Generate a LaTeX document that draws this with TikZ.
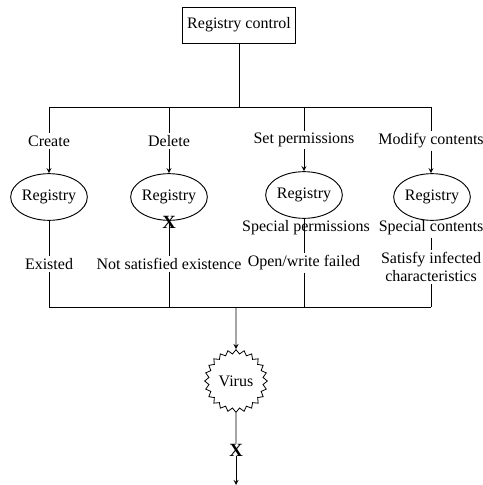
\documentclass[tikz,border=0pt]{standalone}
\usepackage{fontspec}
\setmainfont{Liberation Serif}
\usetikzlibrary{shapes.geometric,arrows,positioning}

\begin{document}
\begin{tikzpicture}[
    x=0.75pt, y=-0.75pt,
    font=\fontsize{12}{14}\selectfont,
    ctrlbox/.style={rectangle, draw, line width=0.7pt, minimum width=85pt, minimum height=27pt},
    reg/.style={ellipse, draw, line width=0.7pt, inner sep=0pt, minimum width=55pt, minimum height=35pt},
    lbl/.style={inner sep=1.5pt, align=center},
    virusnode/.style={star, star points=24, star point ratio=1.15, draw, line width=0.6pt, inner sep=0pt, minimum size=47pt},
    cross/.style={font=\fontsize{14}{14}\selectfont\bfseries, inner sep=0pt},
    link/.style={line width=0.7pt},
    arrow/.style={->, >=stealth, line width=0.7pt}
]
    \useasboundingbox (0,0) rectangle (482,485);

    \node[ctrlbox] (ctrl) at (239,25) {Registry control};

    \coordinate (top) at (239,107);
    \coordinate (bot) at (236,307);

    \node[lbl] (create) at (49,141) {Create};
    \node[lbl] (delete) at (169,141) {Delete};
    \node[lbl] (setperm) at (304,140) {Set permissions};
    \node[lbl] (modify) at (431,141) {Modify contents};

    \node[reg] (reg1) at (49,197) {Registry};
    \node[reg] (reg2) at (169,197) {Registry};
    \node[reg] (reg3) at (304,195) {Registry};
    \node[reg] (reg4) at (432,197) {Registry};

    \node[lbl] (existed) at (49,264) {Existed};
    \node[lbl] (notsat) at (169,264) {Not satisfied existence};
    \node[lbl] (specperm) at (306,228) {Special permissions};
    \node[lbl] (openw) at (304,263) {Open/write failed};
    \node[lbl] (speccont) at (431,228) {Special contents};
    \node[lbl] (satisfy) at (431,267) {Satisfy infected\\characteristics};

    \node[virusnode] (virus) at (236,381) {Virus};
    \coordinate (out) at (236,485);

    % upper bus
    \draw[link] (ctrl) -- (top);
    \draw[link] (create |- top) -- (modify |- top);
    \draw[link] (create |- top) -- (create);
    \draw[link] (delete |- top) -- (delete);
    \draw[link] (setperm |- top) -- (setperm);
    \draw[link] (modify |- top) -- (modify);

    \draw[arrow] (create) -- (reg1);
    \draw[arrow] (delete) -- (reg2);
    \draw[arrow] (setperm) -- (reg3);
    \draw[arrow] (modify) -- (modify |- reg4.north);

    % results
    \draw[link] (reg1) -- (existed);
    \draw[link] (reg2) -- (notsat);
    \node[cross] (x1) at (169,222) {X};
    \draw[link] (reg3) -- (openw);
    \draw[link] (speccont.south -| satisfy) -- (satisfy);

    % lower bus
    \draw[link] (existed) -- (existed |- bot);
    \draw[link] (notsat) -- (notsat |- bot);
    \draw[link] (openw) -- (openw |- bot);
    \draw[link] (satisfy) -- (satisfy |- bot);
    \draw[link] (existed |- bot) -- (satisfy |- bot);

    \draw[arrow] (bot) -- (virus);
    \node[cross] (x2) at (236,450) {X};
    \draw[link] (virus) -- (x2);
    \draw[arrow] (x2) -- (out);
\end{tikzpicture}
\end{document}
